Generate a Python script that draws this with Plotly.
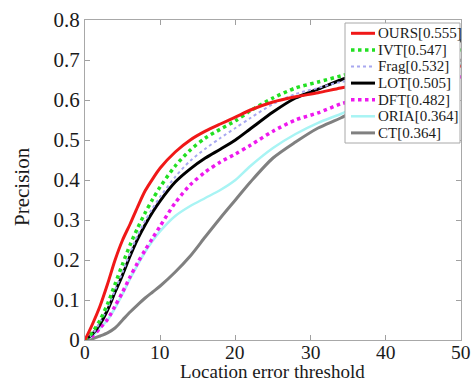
import plotly.graph_objects as go

# Location error thresholds (x)
thresholds = [0, 1, 2, 3, 4, 5, 6, 7, 8, 9, 10, 12, 14, 16, 18, 20, 22, 25, 28, 31, 34, 37, 40, 45, 50]

ours = [0.0, 0.04, 0.085, 0.14, 0.20, 0.25, 0.29, 0.333, 0.373, 0.403, 0.43, 0.47, 0.50, 0.522, 0.54, 0.557, 0.575, 0.595, 0.608, 0.618, 0.63, 0.64, 0.65, 0.667, 0.685]
ivt = [0.0, 0.02, 0.05, 0.09, 0.14, 0.19, 0.238, 0.28, 0.318, 0.352, 0.383, 0.435, 0.475, 0.505, 0.527, 0.548, 0.573, 0.605, 0.63, 0.645, 0.66, 0.675, 0.69, 0.71, 0.725]
frag = [0.0, 0.015, 0.045, 0.08, 0.125, 0.17, 0.218, 0.262, 0.298, 0.33, 0.358, 0.408, 0.448, 0.478, 0.505, 0.53, 0.555, 0.59, 0.615, 0.63, 0.645, 0.65, 0.655, 0.665, 0.67]
lot = [0.0, 0.015, 0.04, 0.075, 0.12, 0.163, 0.21, 0.252, 0.288, 0.32, 0.348, 0.395, 0.428, 0.455, 0.477, 0.50, 0.528, 0.57, 0.605, 0.627, 0.65, 0.67, 0.69, 0.72, 0.748]
dft = [0.0, 0.01, 0.03, 0.052, 0.085, 0.12, 0.158, 0.193, 0.225, 0.255, 0.285, 0.343, 0.388, 0.42, 0.445, 0.465, 0.487, 0.522, 0.55, 0.568, 0.59, 0.605, 0.62, 0.64, 0.658]
oria = [0.0, 0.01, 0.03, 0.05, 0.08, 0.115, 0.153, 0.188, 0.22, 0.248, 0.272, 0.31, 0.335, 0.355, 0.375, 0.40, 0.435, 0.48, 0.515, 0.543, 0.565, 0.59, 0.615, 0.655, 0.69]
ct = [0.0, 0.003, 0.01, 0.018, 0.03, 0.05, 0.07, 0.088, 0.105, 0.12, 0.135, 0.17, 0.21, 0.258, 0.305, 0.35, 0.395, 0.455, 0.495, 0.53, 0.555, 0.585, 0.615, 0.66, 0.70]

names = ["OURS[0.555]", "IVT[0.547]", "Frag[0.532]", "LOT[0.505]", "DFT[0.482]", "ORIA[0.364]", "CT[0.364]"]
series = [ours, ivt, frag, lot, dft, oria, ct]
colors = ["#f01818", "#22e022", "#a8a8f0", "#000000", "#ee18ee", "#a8f4f4", "#808080"]
widths = [3, 3.5, 2, 3, 3.5, 2.5, 3]
dashes = ["solid", "dot", "dot", "solid", "dot", "solid", "solid"]

x_ticks = [0, 10, 20, 30, 40, 50]
x_tick_labels = ["0", "10", "20", "30", "40", "50"]
y_ticks = [0, 0.1, 0.2, 0.3, 0.4, 0.5, 0.6, 0.7, 0.8]
y_tick_labels = ["0", "0.1", "0.2", "0.3", "0.4", "0.5", "0.6", "0.7", "0.8"]
x_title = "Location error threshold"
y_title = "Precision"

fig = go.Figure()
for i in reversed(range(len(series))):
    fig.add_trace(go.Scatter(
        x=thresholds, y=series[i], mode="lines", name=names[i],
        line=dict(color=colors[i], width=widths[i], dash=dashes[i], shape="spline", smoothing=0.8),
        showlegend=False,
    ))

serif = "Liberation Serif"
txt = "#1a1a1a"

plot_l, plot_r, plot_t, plot_b = 85, 461, 20, 340
def px(xp):
    return (xp - plot_l) / (plot_r - plot_l)
def py(yp):
    return (plot_b - yp) / (plot_b - plot_t)

# Legend drawn manually (box, line samples, labels)
shapes = [dict(type="rect", xref="paper", yref="paper",
               x0=px(345), x1=px(460), y0=py(143), y1=py(23),
               line=dict(color="#a8a8a8", width=1), fillcolor="white", layer="above")]
annotations = []
for i, name in enumerate(names):
    yc = 33.3 + 16.6 * i
    shapes.append(dict(type="line", xref="paper", yref="paper",
                       x0=px(351), x1=px(375), y0=py(yc), y1=py(yc),
                       line=dict(color=colors[i], width=widths[i], dash=dashes[i]), layer="above"))
    annotations.append(dict(xref="paper", yref="paper", x=px(376), y=py(yc),
                            xanchor="left", yanchor="middle", text=name, showarrow=False,
                            font=dict(family=serif, size=15, color=txt)))

# x tick labels placed on the x scale
for v, lab in zip(x_ticks, x_tick_labels):
    annotations.append(dict(xref="x", yref="paper", x=v, y=py(341),
                            xanchor="center", yanchor="top", text=lab, showarrow=False,
                            borderpad=0, font=dict(family=serif, size=19.5, color=txt)))

# Axis titles
annotations.append(dict(xref="paper", yref="paper", x=px(272), y=py(383),
                        xanchor="center", yanchor="bottom", text=x_title, showarrow=False,
                        borderpad=0, font=dict(family=serif, size=19, color=txt)))
annotations.append(dict(xref="paper", yref="paper", x=px(22), y=py(187),
                        xanchor="center", yanchor="middle", text=y_title, showarrow=False,
                        textangle=-90, font=dict(family=serif, size=21, color=txt)))

axis_common = dict(
    showgrid=False, zeroline=False, showline=True, linecolor="#a8a8a8", linewidth=1,
    mirror="ticks", ticks="inside", ticklen=5, tickcolor="#a0a0a0",
    tickfont=dict(family=serif, size=21, color=txt), automargin=False,
)
fig.update_layout(
    width=472, height=383,
    margin=dict(l=85, r=11, t=20, b=43, autoexpand=False),
    paper_bgcolor="white", plot_bgcolor="white",
    xaxis=dict(range=[0, 50], tickvals=x_ticks, showticklabels=False, **axis_common),
    yaxis=dict(range=[0, 0.8], tickvals=y_ticks, ticktext=y_tick_labels,
               ticklabelstandoff=0, **axis_common),
    shapes=shapes, annotations=annotations,
    showlegend=False,
)
fig.write_html("out.html")
